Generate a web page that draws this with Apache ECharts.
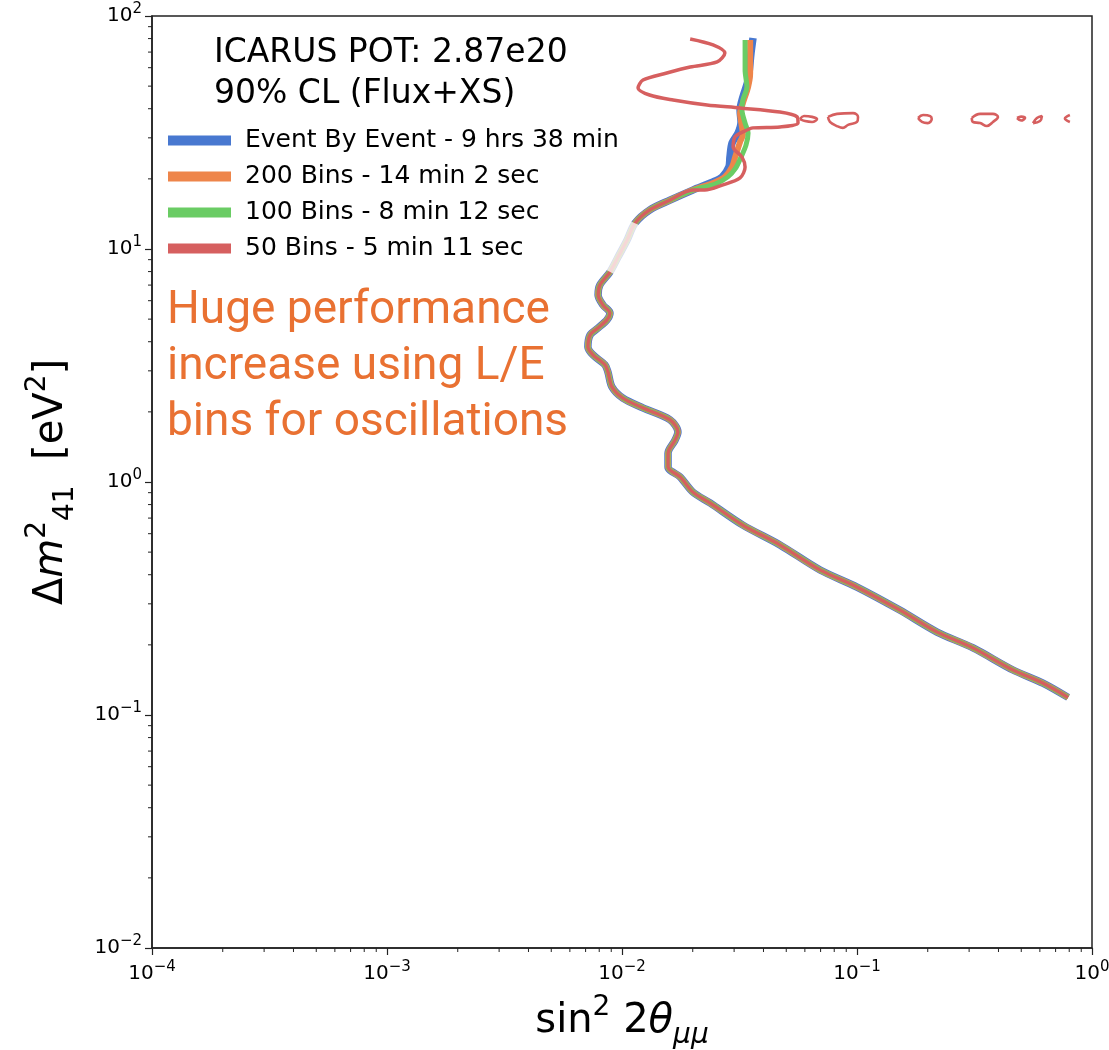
<!DOCTYPE html>
<html><head><meta charset="utf-8">
<script src="https://cdn.jsdelivr.net/npm/echarts@6/dist/echarts.min.js"></script>
<style>html,body{margin:0;padding:0;background:#fff}#c{width:1109px;height:1050px}</style>
</head><body><div id="c"></div>
<script>
// ---- axis ranges ----
const xRange = [1e-4, 1];
const yRange = [1e-2, 1e2];

// ---- legend names ----
const seriesNames = [
  'Event By Event - 9 hrs 38 min',
  '200 Bins - 14 min 2 sec',
  '100 Bins - 8 min 12 sec',
  '50 Bins - 5 min 11 sec'
];

// ---- shared lower part of the 90% CL contour [sin^2 2theta, dm2] ----
const lowerBand = [
  [0.0200,17.9],[0.0160,16.2],[0.0131,14.7],[0.01135,12.9],[0.0105,10.9],[0.00962,9.24],
  [0.00889,7.97],[0.00805,7.00],[0.00791,6.35],[0.00830,5.75],[0.00889,5.31],[0.00863,4.96],
  [0.00791,4.58],[0.00731,4.27],[0.00716,3.80],[0.00753,3.51],[0.00847,3.18],[0.00871,2.97],
  [0.00906,2.56],[0.01009,2.29],[0.01227,2.08],[0.0160,1.85],[0.0173,1.64],[0.0168,1.51],
  [0.0157,1.33],[0.0157,1.16],[0.0177,1.05],[0.0200,0.906],[0.0237,0.813],[0.0327,0.653],
  [0.0470,0.537],[0.0697,0.419],[0.100,0.354],[0.152,0.282],[0.219,0.227],[0.312,0.194],
  [0.461,0.156],[0.618,0.137],[0.791,0.119]
];

// ---- upper parts, one per method ----
const eventByEventTop = [
  [0.0361,80.4],[0.0354,69.3],[0.0344,53.1],[0.0327,44.9],[0.0318,39.5],[0.0321,35.1],
  [0.0312,31.5],[0.0294,28.5],[0.0288,24.8],[0.0285,22.5],[0.0267,20.4],[0.0244,19.4]
];
const bins200Top = [
  [0.0351,78.9],[0.0351,56.9],[0.0344,49.6],[0.0327,42.3],[0.0318,38.3],[0.0324,33.4],
  [0.0327,30.9],[0.0318,28.8],[0.0303,24.8],[0.0294,22.5],[0.0274,20.4],[0.0244,19.2]
];
const bins100Top = [
  [0.0334,78.9],[0.0334,58.6],[0.0340,49.6],[0.0327,43.6],[0.0324,39.5],[0.0334,34.7],
  [0.0344,31.5],[0.0337,27.9],[0.0321,24.8],[0.0305,22.3],[0.0282,20.4],[0.0249,19.0]
];
const bins50Top = [
  [0.0195,79.7],[0.0244,75.1],[0.0274,69.3],[0.0254,63.5],[0.0195,60.4],[0.0155,56.9],
  [0.01228,53.1],[0.0117,49.1],[0.0131,45.8],[0.0165,43.6],[0.0230,41.5],[0.0318,40.3],
  [0.0470,38.7],[0.0556,36.9],[0.0561,34.7],[0.0470,33.4],[0.0361,33.1],[0.0327,31.8],
  [0.0303,30.3],[0.0297,27.4],[0.0324,24.8],[0.0334,22.5],[0.0318,20.2],[0.0267,18.8],
  [0.0225,17.9]
];

// ---- small closed islands of the 50-bin contour ----
const islandA = [[0.0572,36.1],[0.0595,37.2],[0.0644,36.9],[0.0676,36.1],[0.0644,35.1],[0.0601,35.4],[0.0572,36.1]];
const islandB = [[0.0753,36.9],[0.0822,38.0],[0.0962,38.3],[0.101,36.9],[0.100,35.1],[0.0916,34.1],[0.0871,33.1],[0.0822,33.7],[0.0767,35.1],[0.0753,36.9]];
const islandC = [[0.182,36.5],[0.191,37.6],[0.205,37.2],[0.208,36.1],[0.200,34.7],[0.189,35.1],[0.182,36.5]];
const islandD = [[0.308,36.5],[0.334,38.0],[0.379,38.0],[0.398,36.9],[0.379,35.1],[0.357,33.7],[0.334,34.7],[0.311,35.1],[0.308,36.5]];
const islandE = [[0.480,36.5],[0.499,37.0],[0.519,36.5],[0.499,35.6],[0.480,36.5]];
const islandF = [[0.561,34.7],[0.583,36.5],[0.612,37.2],[0.601,35.4],[0.561,34.7]];
const islandG = [[0.805,37.6],[0.767,36.3],[0.805,35.1]];
const islands50 = [islandA, islandB, islandC, islandD, islandE, islandF, islandG];

const colors = ['#4878D0', '#EE854A', '#6ACC64', '#D65F5F'];
const widths = [7.5, 6, 5, 3.5];
const tops = [eventByEventTop, bins200Top, bins100Top, bins50Top];

// minor tick positions of log axes (2..9 x 10^n)
function minorTicks(lo, hi) {
  const out = [];
  for (let e = Math.round(Math.log10(lo)); e < Math.round(Math.log10(hi)); e++)
    for (let m = 2; m <= 9; m++) out.push(m * Math.pow(10, e));
  return out;
}
const minorX = minorTicks(xRange[0], xRange[1]);
const minorY = minorTicks(yRange[0], yRange[1]);

function powLabel(v) {
  const e = Math.round(Math.log10(v));
  return '{b|10}{s|' + (e < 0 ? '\u2212' : '') + Math.abs(e) + '}';
}
const F = 'DejaVu Sans';
const labelRich = {
  b: { fontSize: 20, lineHeight: 28, fontFamily: F, color: '#000' },
  s: { fontSize: 15, lineHeight: 16, verticalAlign: 'top', fontFamily: F, color: '#000' }
};
const nameRich = {
  n: { fontSize: 40, lineHeight: 56, fontFamily: F, color: '#000' },
  it: { fontSize: 40, lineHeight: 56, fontFamily: F, fontStyle: 'italic', color: '#000' },
  sup: { fontSize: 28, lineHeight: 29, verticalAlign: 'top', fontFamily: F, color: '#000' },
  sub: { fontSize: 28, lineHeight: 29, verticalAlign: 'bottom', fontFamily: F, color: '#000' },
  subit: { fontSize: 28, lineHeight: 29, verticalAlign: 'bottom', fontFamily: F, fontStyle: 'italic', color: '#000' }
};

const series = [];
tops.forEach((t, i) => {
  series.push({
    name: seriesNames[i], type: 'line', data: t.concat(lowerBand),
    showSymbol: false, smooth: 0.3, color: colors[i],
    lineStyle: { width: widths[i], color: colors[i] }, z: 2 + i
  });
});
islands50.forEach(isl => {
  series.push({
    type: 'line', data: isl, showSymbol: false, smooth: 0.4, color: colors[3],
    lineStyle: { width: 2.6, color: colors[3] }, z: 6
  });
});
// washed-out stretch of the band
series.push({
  type: 'line', data: lowerBand.slice(3, 7), showSymbol: false, smooth: 0.3,
  lineStyle: { width: 10, color: 'rgba(255,255,255,0.75)' }, z: 7
});
// minor ticks
series.push({
  type: 'custom', silent: true, clip: false, z: 10,
  data: minorX.map(v => [v, yRange[0]]),
  renderItem: (p, api) => {
    const c = api.coord([api.value(0), yRange[0]]);
    return { type: 'line', shape: { x1: c[0], y1: c[1], x2: c[0], y2: c[1] + 4 }, style: { stroke: '#222', lineWidth: 1 } };
  }
});
series.push({
  type: 'custom', silent: true, clip: false, z: 10,
  data: minorY.map(v => [xRange[0], v]),
  renderItem: (p, api) => {
    const c = api.coord([xRange[0], api.value(1)]);
    return { type: 'line', shape: { x1: c[0], y1: c[1], x2: c[0] - 4, y2: c[1] }, style: { stroke: '#222', lineWidth: 1 } };
  }
});

const chart = echarts.init(document.getElementById('c'), null, { renderer: 'canvas' });
chart.setOption({
  animation: false,
  backgroundColor: '#fff',
  textStyle: { fontFamily: F },
  grid: { left: 152, top: 16, right: 17, bottom: 102, outerBoundsMode: 'none', containLabel: false,
          show: true, borderColor: '#222', borderWidth: 1.5, backgroundColor: 'transparent' },
  legend: {
    data: seriesNames, orient: 'vertical', left: 163, top: 123, itemGap: 11,
    icon: 'rect', itemWidth: 63, itemHeight: 10,
    textStyle: { fontSize: 25, lineHeight: 25, fontFamily: F, color: '#000', padding: [0, 0, 0, 9] },
    selectedMode: false
  },
  xAxis: {
    type: 'log', logBase: 10, min: xRange[0], max: xRange[1], splitNumber: 4,
    axisLine: { show: true, lineStyle: { color: '#222', width: 1.5 } },
    axisTick: { show: true, length: 7, lineStyle: { color: '#222', width: 1.2 } },
    splitLine: { show: false }, minorTick: { show: false },
    axisLabel: { formatter: powLabel, rich: labelRich, margin: 12 },
    name: '{n|sin}{sup|2}{n| 2}{it|\u03b8}{subit|\u03bc\u03bc}',
    nameLocation: 'middle', nameGap: 46, nameTextStyle: { rich: nameRich }
  },
  yAxis: {
    type: 'log', logBase: 10, min: yRange[0], max: yRange[1], splitNumber: 4,
    axisLine: { show: true, lineStyle: { color: '#222', width: 1.5 } },
    axisTick: { show: true, length: 7, lineStyle: { color: '#222', width: 1.2 } },
    splitLine: { show: false }, minorTick: { show: false },
    axisLabel: { formatter: powLabel, rich: labelRich, margin: 10 },
    name: '{n|\u0394}{it|m}{sup|2}{sub|41}{n|  [eV}{sup|2}{n|]}',
    nameLocation: 'middle', nameGap: 72, nameRotate: 90, nameTextStyle: { rich: nameRich }
  },
  graphic: [
    { type: 'text', left: 214, top: 33, z: 20,
      style: { text: 'ICARUS POT: 2.87e20\n90% CL (Flux+XS)', fontSize: 33, fontFamily: F, lineHeight: 41, fill: '#000' } },
    { type: 'text', left: 167, top: 283, z: 20,
      style: { text: 'Huge performance\nincrease using L/E\nbins for oscillations', fontSize: 46, fontFamily: 'Roboto', lineHeight: 56, fill: '#E97132' } }
  ],
  series: series
});
</script></body></html>
